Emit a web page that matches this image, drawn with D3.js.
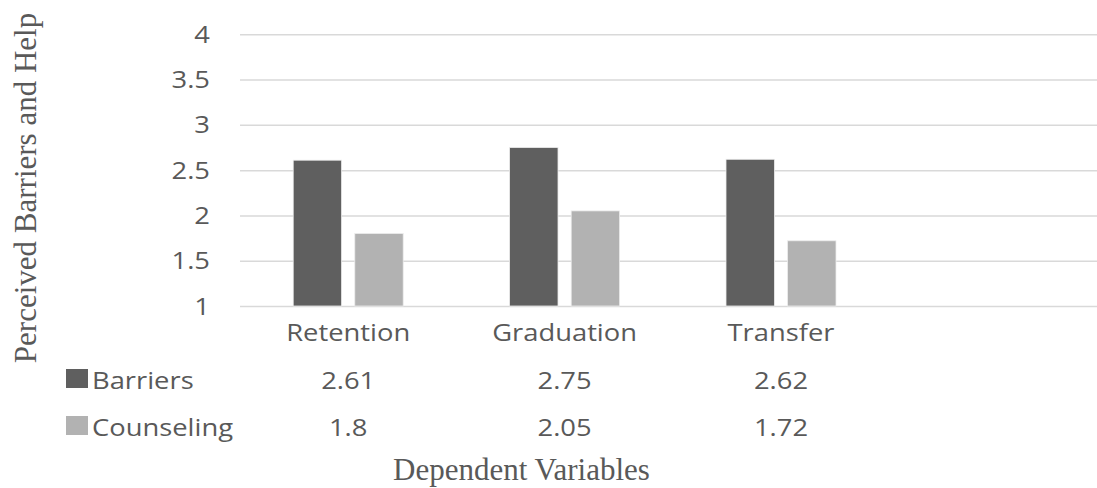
<!DOCTYPE html>
<html>
<head>
<meta charset="utf-8">
<script src="https://cdn.jsdelivr.net/npm/d3@7"></script>
<style>
  body { margin: 0; background: #fff; }
  svg { display: block; }
  text { fill: #595959; }
</style>
</head>
<body>
<div id="chart"></div>
<script>
// Chart Data
const categories = ["Retention", "Graduation", "Transfer", ""];
const seriesNames = ["Barriers", "Counseling"];
const barriers = [2.61, 2.75, 2.62, null];
const counseling = [1.8, 2.05, 1.72, null];
const yTicks = [1, 1.5, 2, 2.5, 3, 3.5, 4];
const yTitle = "Perceived Barriers and Help";
const xTitle = "Dependent Variables";

const seriesValues = [barriers, counseling];
const colors = ["#5f5f5f", "#b2b2b2"];

// Dimensions
const w = 1097, h = 488;
const sans = "'Open Sans', sans-serif", serif = "'Liberation Serif', 'Times New Roman', serif";
const stretch = 1.14;

const svg = d3.select("#chart").append("svg").attr("width", w).attr("height", h);

// Scales
const x0 = d3.scaleBand().domain(categories.map((c, i) => i)).range([240, 1105.6]).paddingInner(0).paddingOuter(0);
const x1 = d3.scaleBand().domain(seriesNames).range([0, x0.bandwidth()]).paddingInner(0.214).paddingOuter(0.864);
const y = d3.scaleLinear().domain([1, 4]).range([306, 34.3]);

// Helper For Slightly Wide Sans Labels
function sansText(g, x, yPos, str, anchor) {
  return g.append("text")
    .attr("transform", "translate(" + x + "," + yPos + ") scale(" + stretch + ",1)")
    .attr("text-anchor", anchor)
    .style("font-family", sans).style("font-size", "24px")
    .text(str);
}

// Gridlines
const yAxis = d3.axisLeft(y).tickValues(yTicks).tickSize(-(w - 240)).tickFormat("");
svg.append("g").attr("transform", "translate(240,0)").call(yAxis)
  .call(g => g.select(".domain").remove())
  .call(g => g.selectAll(".tick line").attr("stroke", "#d9d9d9").attr("stroke-width", 1.5));

// Y Tick Labels
yTicks.forEach(t => sansText(svg, 210, y(t) + 8.6, d3.format("")(t), "end"));

// Bars
categories.forEach((c, i) => {
  seriesValues.forEach((vals, s) => {
    if (vals[i] == null) return;
    svg.append("rect")
      .attr("x", x0(i) + x1(seriesNames[s]))
      .attr("y", y(vals[i]))
      .attr("width", x1.bandwidth())
      .attr("height", y(1) - y(vals[i]))
      .attr("fill", colors[s])
      .attr("stroke", "#ececec").attr("stroke-width", 0.8);
  });
});

// Category Labels & Data Table
const cx = i => x0(i) + x0.bandwidth() / 2;
categories.forEach((c, i) => {
  if (c === "") return;
  sansText(svg, cx(i), 341, c, "middle");
  sansText(svg, cx(i), 389, String(barriers[i]), "middle");
  sansText(svg, cx(i), 436, String(counseling[i]), "middle");
});

// Data Table Row Legend
const rowBase = [389, 436];
seriesNames.forEach((name, s) => {
  svg.append("rect").attr("x", 66).attr("y", rowBase[s] - 20).attr("width", 22).attr("height", 19).attr("fill", colors[s]);
  sansText(svg, 92, rowBase[s], name, "start");
});

// Axis Titles
svg.append("text")
  .attr("transform", "translate(36,188) rotate(-90)")
  .attr("text-anchor", "middle")
  .style("font-family", serif).style("font-size", "31px")
  .text(yTitle);

svg.append("text")
  .attr("x", 521.5).attr("y", 480)
  .attr("text-anchor", "middle")
  .style("font-family", serif).style("font-size", "31px")
  .text(xTitle);
</script>
</body>
</html>
